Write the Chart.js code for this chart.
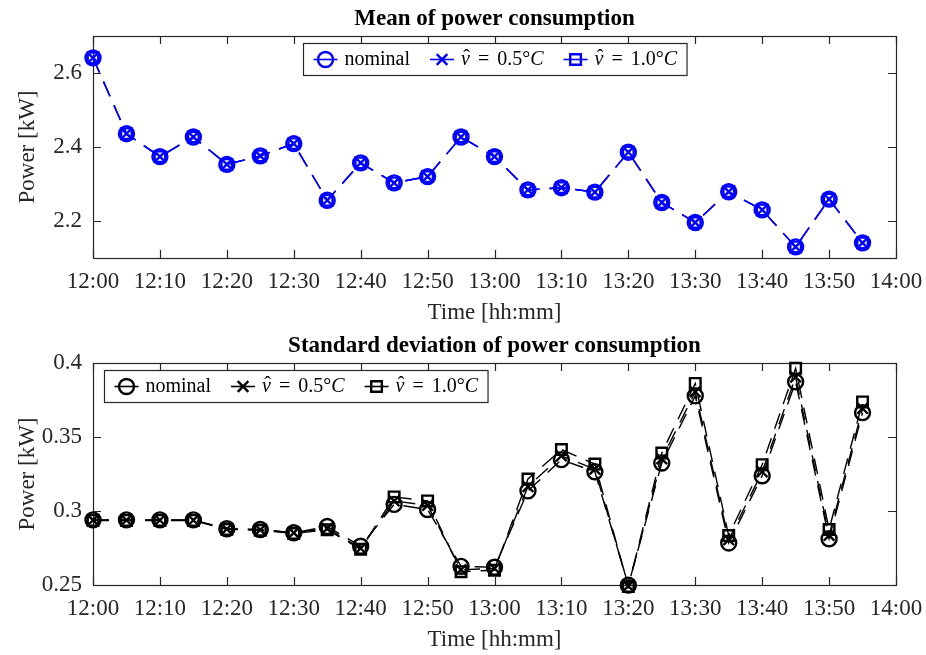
<!DOCTYPE html>
<html>
<head>
<meta charset="utf-8">
<script src="https://cdn.jsdelivr.net/npm/chart.js@4.4.1/dist/chart.umd.min.js"></script>
<style>
  body { margin: 0; background: #fff; }
  #wrap { position: relative; width: 926px; height: 655px; }
  canvas { position: absolute; left: 0; }
  #c1 { top: 0; }
  #c2 { top: 327px; }
</style>
</head>
<body>
<div id="wrap">
  <canvas id="c1" width="926" height="328"></canvas>
  <canvas id="c2" width="926" height="328"></canvas>
</div>
<script>
// sample times (5 min steps)
const times = ['12:00', '12:05', '12:10', '12:15', '12:20', '12:25', '12:30', '12:35',
  '12:40', '12:45', '12:50', '12:55', '13:00', '13:05', '13:10', '13:15',
  '13:20', '13:25', '13:30', '13:35', '13:40', '13:45', '13:50', '13:55'];
const xTickLabels = ['12:00', '12:10', '12:20', '12:30', '12:40', '12:50', '13:00',
  '13:10', '13:20', '13:30', '13:40', '13:50', '14:00'];
const legendLabels = ['nominal', 'v\u0302 = 0.5°C', 'v\u0302 = 1.0°C'];

// mean power [kW]
const meanNominal = [2.641, 2.436, 2.374, 2.427, 2.353, 2.376, 2.409, 2.256,
  2.357, 2.303, 2.320, 2.427, 2.374, 2.284, 2.290, 2.278,
  2.386, 2.250, 2.196, 2.279, 2.230, 2.130, 2.259, 2.141];
const meanV05 = [2.641, 2.436, 2.374, 2.427, 2.353, 2.376, 2.409, 2.256,
  2.357, 2.303, 2.320, 2.427, 2.374, 2.284, 2.290, 2.278,
  2.386, 2.250, 2.196, 2.279, 2.230, 2.130, 2.259, 2.141];
const meanV10 = [2.641, 2.436, 2.374, 2.427, 2.353, 2.376, 2.409, 2.256,
  2.357, 2.303, 2.320, 2.427, 2.374, 2.284, 2.290, 2.278,
  2.386, 2.250, 2.196, 2.279, 2.230, 2.130, 2.259, 2.141];
const meanTicks = [2.2, 2.4, 2.6];

// standard deviation [kW]
const stdNominal = [0.2940, 0.2940, 0.2940, 0.2940, 0.2880, 0.2875, 0.2853, 0.2895,
  0.2762, 0.3045, 0.3010, 0.2626, 0.2620, 0.3136, 0.3347, 0.3265,
  0.2499, 0.3324, 0.3778, 0.2784, 0.3238, 0.3873, 0.2812, 0.3665];
const stdV05 = [0.2938, 0.2938, 0.2938, 0.2938, 0.2878, 0.2873, 0.2852, 0.2882,
  0.2748, 0.3068, 0.3038, 0.2603, 0.2612, 0.3165, 0.3372, 0.3283,
  0.2493, 0.3352, 0.3805, 0.2806, 0.3265, 0.3905, 0.2835, 0.3693];
const stdV10 = [0.2936, 0.2936, 0.2936, 0.2936, 0.2876, 0.2870, 0.2848, 0.2873,
  0.2742, 0.3095, 0.3068, 0.2590, 0.2600, 0.3216, 0.3415, 0.3317,
  0.2490, 0.3392, 0.3862, 0.2834, 0.3313, 0.3964, 0.2875, 0.3737];
const stdTicks = [0.25, 0.3, 0.35, 0.4];

const markers = ['circle', 'crossRot', 'rect'];
const FONT = '"Liberation Serif", "Times New Roman", serif';
const AXIS = '#262626';
const R = 7.5;

function toMin(s) {
  const [h, m] = s.split(':').map(Number);
  return (h - 12) * 60 + m;
}

function marker(ctx, style, x, y) {
  ctx.beginPath();
  if (style === 'circle') {
    ctx.arc(x, y, R, 0, Math.PI * 2);
  } else if (style === 'crossRot') {
    const s = R * Math.SQRT1_2;
    ctx.moveTo(x - s, y - s); ctx.lineTo(x + s, y + s);
    ctx.moveTo(x - s, y + s); ctx.lineTo(x + s, y - s);
  } else {
    const s = R * Math.SQRT1_2;
    ctx.rect(x - s, y - s, 2 * s, 2 * s);
  }
  ctx.stroke();
}

// split "v̂ = 0.5°C" into roman/italic parts
function labelParts(lab) {
  const m = lab.match(/^v\u0302 = ([\d.]+)°C$/);
  if (!m) return [{t: lab, it: false, sp: 0}];
  return [{t: 'v', it: true, hat: true, sp: 0}, {t: '=', it: false, sp: 8},
    {t: m[1] + '°', it: false, sp: 0}, {t: 'C', it: true, sp: 0}];
}
function partsWidth(ctx, parts) {
  let w = 0;
  parts.forEach(p => {
    ctx.font = (p.it ? 'italic ' : '') + '20px ' + FONT;
    w += ctx.measureText(p.t).width + 2 * p.sp;
  });
  return w;
}

const framePlugin = {
  id: 'frame',
  beforeDatasetsDraw(chart) {
    const {ctx, chartArea: a, scales: {x, y}} = chart;
    ctx.save();
    ctx.strokeStyle = AXIS;
    ctx.lineWidth = 1.2;
    ctx.beginPath();
    x.ticks.forEach(t => {
      const px = Math.round(x.getPixelForValue(t.value)) + 0.5;
      ctx.moveTo(px, a.bottom); ctx.lineTo(px, a.bottom - 8);
      ctx.moveTo(px, a.top); ctx.lineTo(px, a.top + 8);
    });
    y.ticks.forEach(t => {
      const py = Math.round(y.getPixelForValue(t.value)) + 0.5;
      ctx.moveTo(a.left, py); ctx.lineTo(a.left + 8, py);
      ctx.moveTo(a.right, py); ctx.lineTo(a.right - 8, py);
    });
    ctx.stroke();
    ctx.strokeRect(Math.round(a.left) + 0.5, Math.round(a.top) + 0.5,
      Math.round(a.width), Math.round(a.height));
    ctx.restore();
  },
  afterDatasetsDraw(chart, args, opts) {
    const {ctx, chartArea: a} = chart;
    ctx.save();
    const pad = 10, sample = 24, gap = 7, sep = 20, h = 32;
    const entries = legendLabels.map((lab, i) => {
      const parts = labelParts(lab);
      return {parts, w: partsWidth(ctx, parts), style: markers[i]};
    });
    const total = pad * 2 + entries.reduce((s, e) => s + sample + gap + e.w, 0) + sep * (entries.length - 1);
    const left = Math.round(opts.align === 'center' ? (a.left + a.right) / 2 - total / 2 : a.left + 11) + 0.5;
    const top = Math.round(a.top + 7) + 0.5;
    ctx.fillStyle = '#fff';
    ctx.fillRect(left, top, total, h);
    ctx.strokeStyle = AXIS;
    ctx.lineWidth = 1.2;
    ctx.strokeRect(left, top, total, h);
    const cy = top + h / 2;
    let x = left + pad;
    entries.forEach(e => {
      ctx.strokeStyle = opts.color;
      ctx.lineWidth = 1.6;
      ctx.setLineDash([]);
      ctx.beginPath();
      ctx.moveTo(x, cy); ctx.lineTo(x + sample, cy);
      ctx.stroke();
      ctx.lineWidth = 2.4;
      marker(ctx, e.style, x + sample / 2, cy);
      x += sample + gap;
      ctx.fillStyle = '#000';
      ctx.textBaseline = 'middle';
      ctx.textAlign = 'left';
      e.parts.forEach(p => {
        ctx.font = (p.it ? 'italic ' : '') + '20px ' + FONT;
        const w = ctx.measureText(p.t).width;
        x += p.sp;
        ctx.fillText(p.t, x, cy);
        if (p.hat) {
          ctx.font = '20px ' + FONT;
          ctx.textAlign = 'center';
          ctx.fillText('\u02C6', x + w / 2 + 1, cy - 1);
          ctx.textAlign = 'left';
        }
        x += w + p.sp;
      });
      x += sep;
    });
    ctx.restore();
  },
  afterDraw(chart, args, opts) {
    const {ctx, chartArea: a} = chart;
    ctx.save();
    ctx.font = 'bold 23px ' + FONT;
    ctx.fillStyle = '#000';
    ctx.textAlign = 'center';
    ctx.textBaseline = 'middle';
    ctx.fillText(opts.title, (a.left + a.right) / 2, a.top - 17);
    ctx.restore();
  }
};

function makeChart(id, title, color, series, yMin, yMax, yTicks, align) {
  const datasets = series.map((s, i) => ({
    label: legendLabels[i],
    data: times.map((t, k) => ({x: toMin(t), y: s[k]})),
    borderColor: color,
    borderWidth: 1.4,
    borderDash: [16, 10],
    pointStyle: markers[i],
    pointRadius: R,
    pointBorderWidth: 2.4,
    pointBorderColor: color,
    pointBackgroundColor: 'rgba(0,0,0,0)',
    fill: false,
    tension: 0,
    clip: false
  }));
  return new Chart(document.getElementById(id), {
    type: 'line',
    data: {datasets},
    plugins: [framePlugin],
    options: {
      responsive: false,
      animation: false,
      events: [],
      layout: {padding: {top: 36, right: 30, left: 0, bottom: 0}},
      plugins: {
        legend: {display: false},
        tooltip: {enabled: false},
        frame: {title, color, align}
      },
      scales: {
        x: {
          type: 'linear',
          min: 0,
          max: 120,
          grid: {display: false, drawTicks: false},
          border: {display: false},
          afterBuildTicks: sc => { sc.ticks = xTickLabels.map(l => ({value: toMin(l)})); },
          afterFit: sc => { sc.height = 70; sc.paddingLeft = 0; sc.paddingRight = 0; },
          ticks: {
            autoSkip: false,
            maxRotation: 0,
            padding: 10,
            color: AXIS,
            font: {family: FONT, size: 23},
            callback: v => xTickLabels.find(l => toMin(l) === v)
          },
          title: {
            display: true,
            text: 'Time [hh:mm]',
            color: AXIS,
            font: {family: FONT, size: 23},
            padding: {top: 0, bottom: 1}
          }
        },
        y: {
          min: yMin,
          max: yMax,
          grid: {display: false, drawTicks: false},
          border: {display: false},
          afterBuildTicks: sc => { sc.ticks = yTicks.map(v => ({value: v})); },
          afterFit: sc => { sc.width = 93; sc.paddingTop = 0; sc.paddingBottom = 0; },
          ticks: {
            padding: 11,
            color: AXIS,
            font: {family: FONT, size: 23},
            callback: v => String(v)
          },
          title: {
            display: true,
            text: 'Power [kW]',
            color: AXIS,
            font: {family: FONT, size: 23},
            padding: {top: 14, bottom: 0}
          }
        }
      }
    }
  });
}

makeChart('c1', 'Mean of power consumption', '#0000ff',
  [meanNominal, meanV05, meanV10], 2.1, 2.7, meanTicks, 'center');
makeChart('c2', 'Standard deviation of power consumption', '#000000',
  [stdNominal, stdV05, stdV10], 0.25, 0.4, stdTicks, 'left');
</script>
</body>
</html>
